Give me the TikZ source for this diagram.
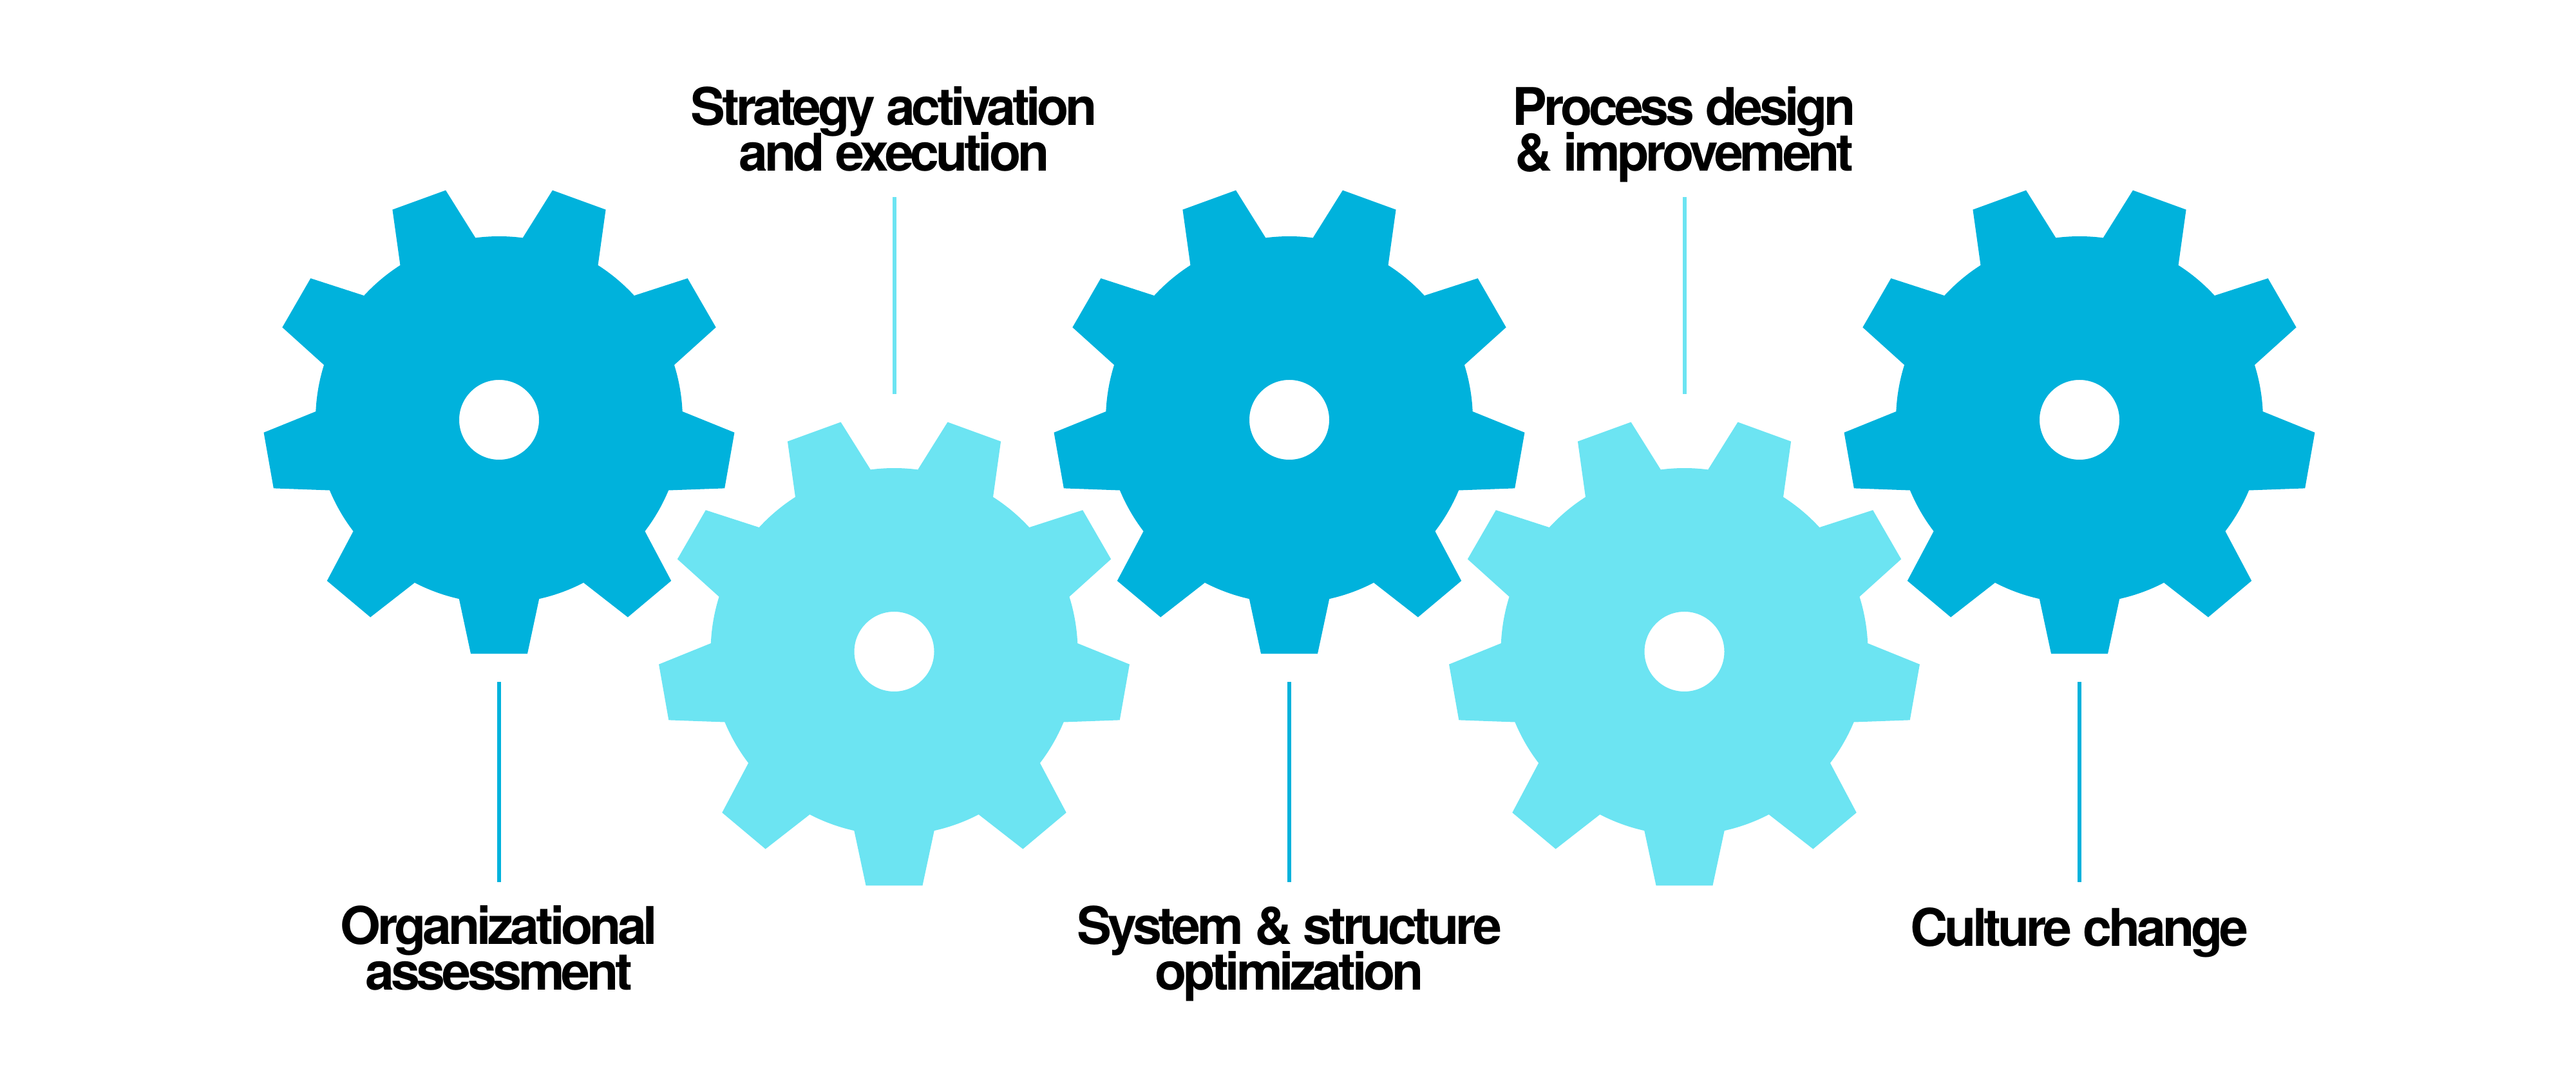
\documentclass[tikz,border=0pt]{standalone}
\usepackage{fontspec}
\setmainfont{TeX Gyre Heros}
\newfontfamily\labelfont{TeX Gyre Heros}[LetterSpace=-6.5]
\usepackage{tikz}

\definecolor{gearDark}{RGB}{0,178,220}
\definecolor{gearLight}{RGB}{108,228,242}

\newcommand\labelsize{\fontsize{24.2}{21.3}\selectfont\lineskiplimit=-50pt\relax}

\tikzset{
  gearlabel/.style={font=\labelfont\bfseries\labelsize, align=center, inner sep=0pt},
  stem/.style={line width=1.8pt},
}

\begin{document}
\begin{tikzpicture}[x=0.75pt,y=0.75pt,yscale=-1,xscale=1]
\useasboundingbox (0,0) rectangle (1600,672.8);

%Shape: Gears [dark, light, dark, light, dark]
\foreach \gx/\gy/\gc in {310/260.8/gearDark,555.4/404.8/gearLight,800.8/260.8/gearDark,1046.2/404.8/gearLight,1291.6/260.8/gearDark}{
\begin{scope}[shift={(\gx,\gy)}]
\fill[\gc, even odd rule] (77.4:114) \foreach \a in {90,130,...,410}{ -- ({\a-6.9}:146.4) -- ({\a+6.9}:146.4) -- ({\a+12.6}:114) arc[start angle={\a+12.6}, end angle={\a+27.4}, radius=114] } -- cycle (0,0) circle[radius=24.8] ;
\end{scope}
}

%Straight Lines [stems]
\coordinate (s1a) at (310,423.6) ; \coordinate (s1b) at (310,548) ;
\coordinate (s2a) at (555.4,122.4) ; \coordinate (s2b) at (555.4,244.8) ;
\coordinate (s3a) at (800.8,423.6) ; \coordinate (s3b) at (800.8,548) ;
\coordinate (s4a) at (1046.2,122.4) ; \coordinate (s4b) at (1046.2,244.8) ;
\coordinate (s5a) at (1291.6,423.6) ; \coordinate (s5b) at (1291.6,548) ;
\draw [stem, gearDark] (s1a) -- (s1b) ;
\draw [stem, gearLight] (s2a) -- (s2b) ;
\draw [stem, gearDark] (s3a) -- (s3b) ;
\draw [stem, gearLight] (s4a) -- (s4b) ;
\draw [stem, gearDark] (s5a) -- (s5b) ;

% Text Node
\node [gearlabel] (assess) at (310,589) {Organizational\\assessment};
% Text Node
\node [gearlabel] (strategy) at (555.4,80) {Strategy activation\\and execution};
% Text Node
\node [gearlabel] (system) at (800.8,592.4) {System \& structure\\optimization};
% Text Node
\node [gearlabel] (process) at (1046.2,83.4) {Process design\\\& improvement};
% Text Node
\node [gearlabel] (culture) at (1291.6,579.4) {Culture change};

\end{tikzpicture}
\end{document}
